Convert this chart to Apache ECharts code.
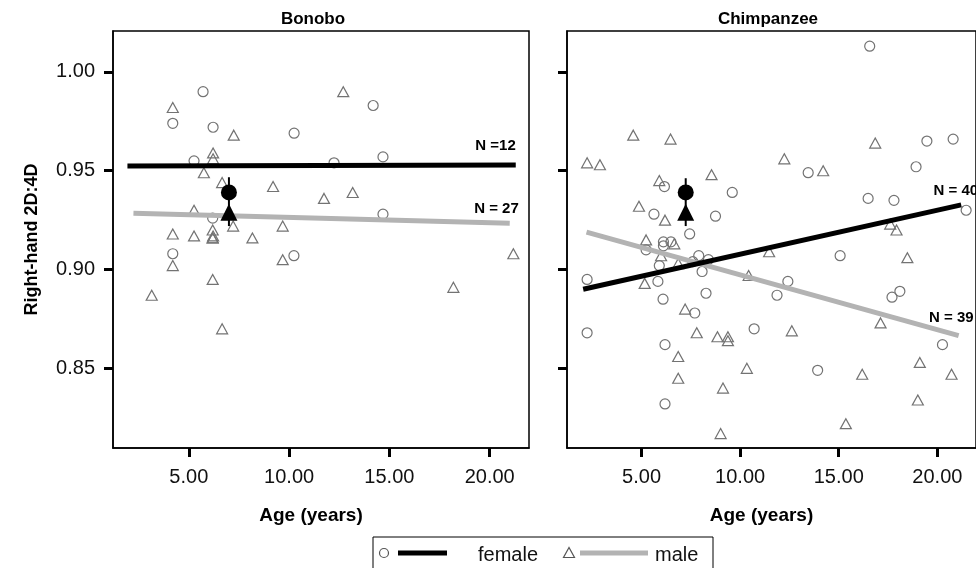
<!DOCTYPE html>
<html><head><meta charset="utf-8">
<script src="https://cdn.jsdelivr.net/npm/echarts@6/dist/echarts.min.js"></script>
<style>html,body{margin:0;padding:0;background:#fff}#c{width:976px;height:568px}</style>
</head><body><div id="c"></div>
<script>
const panelTitles = ['Bonobo', 'Chimpanzee'];
const xTicks = [5, 10, 15, 20];
const yTicks = [0.85, 0.90, 0.95, 1.00];
const nLabels = [['N =12', 'N = 27'], ['N = 40', 'N = 39']];
const legendNames = ['female', 'male'];

const bonoboFemale = [[5.71,0.990],[4.20,0.974],[6.21,0.972],[10.25,0.969],[5.26,0.955],[12.24,0.954],[14.19,0.983],[14.68,0.957],[6.19,0.926],[4.20,0.908],[10.24,0.907],[14.68,0.928]];
const bonoboMale = [[4.20,0.982],[7.24,0.968],[6.21,0.959],[6.21,0.956],[5.75,0.949],[12.70,0.990],[6.66,0.944],[9.20,0.942],[11.74,0.936],[5.26,0.930],[6.19,0.920],[6.19,0.916],[6.19,0.916],[6.21,0.917],[7.21,0.922],[9.68,0.922],[4.20,0.918],[5.26,0.917],[8.17,0.916],[4.20,0.902],[9.68,0.905],[6.19,0.895],[3.15,0.887],[6.66,0.870],[13.17,0.939],[21.18,0.908],[18.19,0.891]];
const chimpFemale = [[6.16,0.942],[9.60,0.939],[5.63,0.928],[8.75,0.927],[16.57,1.013],[19.47,0.965],[20.80,0.966],[13.45,0.949],[18.92,0.952],[16.49,0.936],[17.80,0.935],[21.46,0.930],[7.44,0.918],[6.11,0.914],[6.49,0.914],[6.11,0.912],[5.23,0.910],[7.90,0.907],[8.39,0.905],[7.60,0.904],[5.90,0.902],[8.07,0.899],[2.24,0.895],[5.83,0.894],[8.27,0.888],[6.09,0.885],[7.70,0.878],[2.24,0.868],[10.71,0.870],[6.19,0.862],[6.19,0.832],[15.07,0.907],[12.42,0.894],[11.87,0.887],[18.10,0.889],[17.70,0.886],[20.26,0.862],[13.93,0.849]];
const chimpMale = [[4.58,0.968],[6.47,0.966],[2.24,0.954],[2.89,0.953],[8.55,0.948],[5.90,0.945],[4.87,0.932],[6.19,0.925],[16.85,0.964],[12.24,0.956],[14.21,0.950],[5.23,0.915],[6.66,0.913],[5.99,0.907],[6.86,0.903],[5.16,0.893],[10.43,0.897],[7.21,0.880],[7.80,0.868],[8.85,0.866],[9.38,0.866],[9.38,0.864],[6.86,0.856],[10.34,0.850],[6.86,0.845],[9.13,0.840],[9.01,0.817],[17.61,0.923],[17.93,0.920],[11.47,0.909],[18.48,0.906],[17.12,0.873],[12.62,0.869],[19.11,0.853],[16.19,0.847],[20.72,0.847],[19.01,0.834],[15.36,0.822]];

const bonoboFemaleFit = [[1.94,0.9524],[21.3,0.9529]];
const bonoboMaleFit = [[2.24,0.9285],[21.0,0.9234]];
const chimpFemaleFit = [[2.04,0.890],[21.21,0.9327]];
const chimpMaleFit = [[2.21,0.9189],[21.08,0.8666]];

const meanAge = [7.0, 7.24];
const meanFemale = [0.939, 0.939];
const meanMale = [0.929, 0.929];
const meanErrLow = [0.922, 0.922];
const meanErrHigh = [0.9467, 0.9462];

const FONT = "'Liberation Sans', Arial, sans-serif";
const pointsF = [bonoboFemale, chimpFemale];
const pointsM = [bonoboMale, chimpMale];
const fitsF = [bonoboFemaleFit, chimpFemaleFit];
const fitsM = [bonoboMaleFit, chimpMaleFit];

const gridLeft = [113, 567];
const labelOffF = [[0, -12], [17, -7]];
const labelOffM = [[9, -7], [15, -10]];
const grids = [], xAxes = [], yAxes = [], series = [];
for (let i = 0; i < 2; i++) {
  grids.push({left: gridLeft[i], top: 31, width: 416, height: 417, show: true, borderColor: '#000', borderWidth: 1.5, backgroundColor: 'transparent'});
  xAxes.push({gridIndex: i, type: 'value', min: 1.22, max: 21.96,
    axisLine: {show: true, onZero: false, lineStyle: {color: '#000', width: 1.5}},
    axisTick: {show: true, customValues: xTicks, length: 9, lineStyle: {color: '#000', width: 3}},
    axisLabel: {customValues: xTicks, formatter: v => v.toFixed(2), fontSize: 20, color: '#111', margin: 19, fontFamily: FONT},
    splitLine: {show: false},
    name: 'Age (years)', nameLocation: 'middle', nameGap: 58,
    nameTextStyle: {fontWeight: 'bold', fontSize: 19, color: '#000', fontFamily: FONT, padding: [0, 20, 0, 0]}});
  yAxes.push({gridIndex: i, type: 'value', min: 0.8097, max: 1.0207,
    axisLine: {show: true, onZero: false, lineStyle: {color: '#000', width: 1.5}},
    axisTick: {show: true, customValues: yTicks, length: 9, lineStyle: {color: '#000', width: 3}},
    axisLabel: {show: i === 0, customValues: yTicks, formatter: v => v.toFixed(2), fontSize: 20, color: '#111', margin: 18, fontFamily: FONT},
    splitLine: {show: false},
    name: i === 0 ? 'Right-hand 2D:4D' : '', nameLocation: 'middle', nameGap: 72,
    nameTextStyle: {fontWeight: 'bold', fontSize: 18, color: '#000', fontFamily: FONT}});
  const hollow = {color: 'rgba(255,255,255,0)', borderColor: '#737373', borderWidth: 1.2, opacity: 1};
  series.push({type: 'scatter', name: 'female', xAxisIndex: i, yAxisIndex: i, symbol: 'circle', symbolSize: 10, itemStyle: hollow, data: pointsF[i], z: 2});
  series.push({type: 'scatter', name: 'male', xAxisIndex: i, yAxisIndex: i, symbol: 'triangle', symbolSize: [11, 10], itemStyle: hollow, data: pointsM[i], z: 2});
  const lbl = (t, off) => ({show: true, formatter: t, align: 'right', verticalAlign: 'bottom', distance: 0, offset: off, fontSize: 15, fontWeight: 'bold', color: '#000', fontFamily: FONT});
  series.push({type: 'line', xAxisIndex: i, yAxisIndex: i, data: fitsM[i], symbol: 'none', lineStyle: {color: '#b3b3b3', width: 5}, z: 3,
    endLabel: lbl(nLabels[i][1], labelOffM[i])});
  series.push({type: 'line', xAxisIndex: i, yAxisIndex: i, data: fitsF[i], symbol: 'none', lineStyle: {color: '#000', width: 5}, z: 4,
    endLabel: lbl(nLabels[i][0], labelOffF[i])});
  series.push({type: 'line', xAxisIndex: i, yAxisIndex: i, data: [[meanAge[i], meanErrLow[i]], [meanAge[i], meanErrHigh[i]]], symbol: 'none', lineStyle: {color: '#000', width: 2}, z: 5});
  series.push({type: 'scatter', xAxisIndex: i, yAxisIndex: i, symbol: 'circle', symbolSize: 16, itemStyle: {color: '#000', opacity: 1}, data: [[meanAge[i], meanFemale[i]]], z: 6});
  series.push({type: 'scatter', xAxisIndex: i, yAxisIndex: i, symbol: 'triangle', symbolSize: [17, 17], itemStyle: {color: '#000', opacity: 1}, data: [[meanAge[i], meanMale[i]]], z: 6});
}

const graphic = [
  {type: 'text', x: 313, y: 19, style: {text: panelTitles[0], align: 'center', verticalAlign: 'middle', font: 'bold 17px ' + FONT, fill: '#000'}},
  {type: 'text', x: 768, y: 19, style: {text: panelTitles[1], align: 'center', verticalAlign: 'middle', font: 'bold 17px ' + FONT, fill: '#000'}},
  {type: 'rect', shape: {x: 373, y: 537, width: 340, height: 40}, style: {fill: '#fff', stroke: '#000', lineWidth: 1}},
  {type: 'circle', shape: {cx: 384, cy: 553, r: 4.5}, style: {fill: 'none', stroke: '#555', lineWidth: 1.2}},
  {type: 'line', shape: {x1: 398, y1: 553, x2: 447, y2: 553}, style: {stroke: '#000', lineWidth: 5}},
  {type: 'text', x: 478, y: 555, style: {text: legendNames[0], align: 'left', verticalAlign: 'middle', font: '20px ' + FONT, fill: '#111'}},
  {type: 'polygon', shape: {points: [[569, 547.5], [563.5, 557.5], [574.5, 557.5]]}, style: {fill: 'none', stroke: '#555', lineWidth: 1.2}},
  {type: 'line', shape: {x1: 580, y1: 553, x2: 648, y2: 553}, style: {stroke: '#b3b3b3', lineWidth: 5}},
  {type: 'text', x: 655, y: 555, style: {text: legendNames[1], align: 'left', verticalAlign: 'middle', font: '20px ' + FONT, fill: '#111'}}
];

const chart = echarts.init(document.getElementById('c'), null, {renderer: 'canvas'});
chart.setOption({animation: false, backgroundColor: '#fff', grid: grids, xAxis: xAxes, yAxis: yAxes, series: series, graphic: graphic});
</script></body></html>
